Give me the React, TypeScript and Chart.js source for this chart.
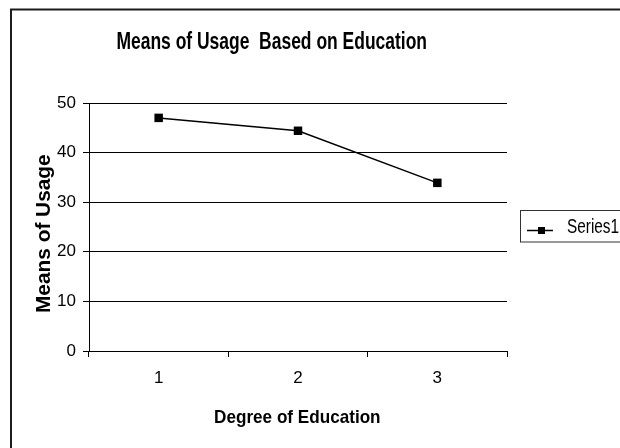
import React, { useEffect, useRef } from "react";
import { Chart, registerables } from "chart.js";

Chart.register(...registerables);

// Chart content
const categories: string[] = ["1", "2", "3"];
const series1: number[] = [47, 44.4, 33.9];
const seriesName = "Series1";
const yMin = 0;
const yMax = 50;
const yStep = 10;

const chartTitle = "Means of Usage  Based on Education";
const xTitle = "Degree of Education";
const yTitle = "Means of Usage";

const FONT = "'Liberation Sans', Arial, Helvetica, sans-serif";

// Draws text whose ink is fitted to a given length, centred on (cx, baseline).
function fittedText(
  ctx: CanvasRenderingContext2D,
  text: string,
  font: string,
  cx: number,
  baseline: number,
  length: number,
  angle = 0
) {
  ctx.save();
  ctx.font = font;
  const m = ctx.measureText(text);
  const left = m.actualBoundingBoxLeft;
  const right = m.actualBoundingBoxRight;
  const ink = left + right;
  const sx = length / ink;
  ctx.translate(cx, baseline);
  if (angle) ctx.rotate(angle);
  ctx.scale(sx, 1);
  ctx.textAlign = "left";
  ctx.textBaseline = "alphabetic";
  ctx.fillStyle = "#000";
  ctx.fillText(text, -ink / 2 + left, 0);
  ctx.restore();
}

const decorations = {
  id: "decorations",
  afterDraw(chart: any) {
    const ctx: CanvasRenderingContext2D = chart.ctx;
    ctx.save();

    // outer frame (left and top edges)
    ctx.strokeStyle = "#1c1c1c";
    ctx.lineWidth = 2;
    ctx.beginPath();
    ctx.moveTo(11, 460);
    ctx.lineTo(11, 9.5);
    ctx.lineTo(640, 9.5);
    ctx.stroke();

    // titles
    fittedText(ctx, chartTitle, `bold 23px ${FONT}`, 271.7, 48.5, 309);
    fittedText(ctx, xTitle, `bold 19px ${FONT}`, 297.5, 423, 165);
    fittedText(ctx, yTitle, `bold 21px ${FONT}`, 50, 233.5, 157, -Math.PI / 2);

    // legend
    ctx.strokeStyle = "#333";
    ctx.lineWidth = 1;
    ctx.strokeRect(520.5, 210.5, 130, 31.5);
    ctx.strokeStyle = "#000";
    ctx.lineWidth = 1.5;
    ctx.beginPath();
    ctx.moveTo(527, 230.5);
    ctx.lineTo(553, 230.5);
    ctx.stroke();
    ctx.fillStyle = "#000";
    ctx.fillRect(538, 227, 7, 7);
    ctx.save();
    ctx.font = `20px ${FONT}`;
    const m = ctx.measureText(seriesName);
    const ink = m.actualBoundingBoxLeft + m.actualBoundingBoxRight;
    ctx.translate(567, 233);
    ctx.scale(52 / ink, 1);
    ctx.textBaseline = "alphabetic";
    ctx.fillText(seriesName, m.actualBoundingBoxLeft, 0);
    ctx.restore();

    ctx.restore();
  },
};

export default function App() {
  const canvasRef = useRef<HTMLCanvasElement | null>(null);

  useEffect(() => {
    const canvas = canvasRef.current;
    if (!canvas) return;
    const chart = new Chart(canvas, {
      type: "line",
      data: {
        labels: categories,
        datasets: [
          {
            label: seriesName,
            data: series1,
            borderColor: "#000",
            backgroundColor: "#000",
            borderWidth: 1.5,
            pointStyle: "rect",
            pointRadius: 6,
            pointBorderWidth: 0,
            pointBackgroundColor: "#000",
            fill: false,
            tension: 0,
          },
        ],
      },
      options: {
        responsive: false,
        animation: false,
        devicePixelRatio: 1,
        layout: { padding: { left: 0, top: 103, right: 113, bottom: 0 } },
        plugins: {
          legend: { display: false },
          title: { display: false },
          tooltip: { enabled: false },
        },
        scales: {
          x: {
            offset: true,
            grid: {
              offset: true,
              drawOnChartArea: false,
              drawTicks: true,
              tickLength: 6,
              color: "#000",
            },
            border: { color: "#000", width: 1 },
            ticks: {
              color: "#000",
              font: { family: FONT, size: 17 },
              padding: 11,
              maxRotation: 0,
            },
            afterFit: (s: any) => {
              s.height = 97;
            },
          },
          y: {
            min: yMin,
            max: yMax,
            grid: { color: "#000", tickLength: 6 },
            border: { color: "#000", width: 1 },
            ticks: {
              stepSize: yStep,
              color: "#000",
              font: { family: FONT, size: 17 },
              padding: 7,
            },
            afterFit: (s: any) => {
              s.width = 89;
            },
          },
        },
      },
      plugins: [decorations],
    });
    return () => chart.destroy();
  }, []);

  return (
    <div
      style={{
        position: "fixed",
        left: 0,
        top: 0,
        width: 620,
        height: 448,
        background: "#fff",
        overflow: "hidden",
      }}
    >
      <canvas ref={canvasRef} width={620} height={448} />
    </div>
  );
}
